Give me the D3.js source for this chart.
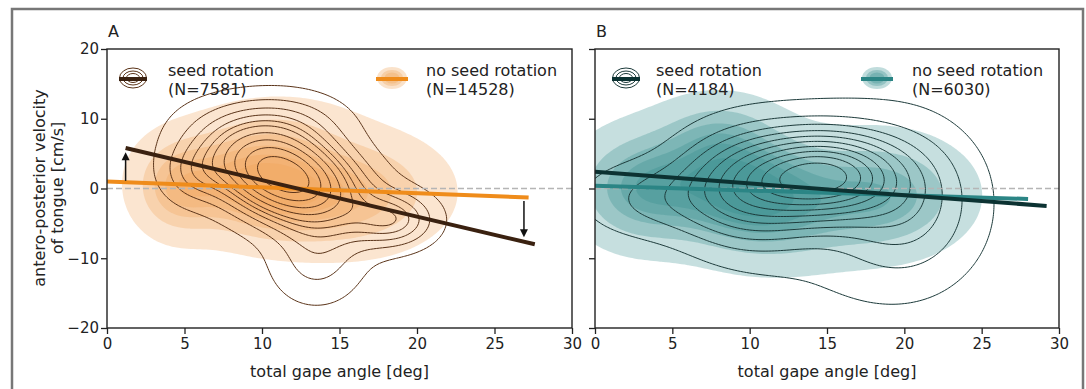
<!DOCTYPE html>
<html>
<head>
<meta charset="utf-8">
<script src="https://cdn.jsdelivr.net/npm/d3@7"></script>
<style>
  body { margin: 0; background: #fff; }
  svg text { font-family: "DejaVu Sans", sans-serif; fill: #222; }
</style>
</head>
<body>
<div id="chart"></div>
<script>
// axis ticks
var xTicks = [0, 5, 10, 15, 20, 25, 30];
var yTicks = [-20, -10, 0, 10, 20];

// density blobs: [cx, cy, sx, sy, rho, weight]
var seedBlobsA = [
  [11.4, 1.8, 3.3, 4.8, -0.38, 1.0],
  [13.5, -10.5, 2.0, 4.2, 0.0, 0.10],
  [11.5, 9.5, 2.8, 3.2, 0.0, 0.10],
  [18.5, -4.5, 1.8, 2.6, 0.0, 0.10],
  [5.5, 2.0, 1.4, 2.8, 0.0, 0.04]
];
var noSeedBlobsA = [
  [10.2, 0.5, 3.4, 4.6, -0.15, 1.0],
  [16.5, -0.5, 3.2, 4.8, 0.0, 0.45],
  [4.6, 0.0, 1.7, 4.0, 0.0, 0.22],
  [11.5, 8.5, 3.0, 3.2, 0.0, 0.10]
];
var seedBlobsB = [
  [14.8, 1.8, 3.0, 3.8, 0.0, 1.0],
  [10.0, 0.0, 2.8, 4.8, 0.0, 0.6],
  [20.0, -2.5, 2.8, 6.5, 0.0, 0.35],
  [4.0, -1.5, 3.0, 3.4, 0.0, 0.12],
  [16.5, -2.0, 5.0, 9.5, 0.0, 0.30]
];
var noSeedBlobsB = [
  [10.0, -0.8, 3.6, 5.3, -0.15, 1.0],
  [3.0, 0.0, 2.6, 4.8, 0.0, 0.40],
  [18.5, -1.0, 3.3, 5.0, 0.0, 0.50],
  [8.0, 7.5, 2.4, 3.6, 0.0, 0.15]
];

// regression lines [x, y] end points
var fitSeedA = [[1.2, 5.8], [27.6, -8.0]];
var fitNoSeedA = [[0, 1.0], [27.2, -1.3]];
var fitSeedB = [[0, 2.4], [29.2, -2.5]];
var fitNoSeedB = [[0, 0.4], [28.0, -1.5]];

// arrows in panel A: [x, yFrom, yTo]
var arrowsA = [[1.2, 1.1, 5.2], [26.9, -1.8, -7.0]];

var legendTextA = ["seed rotation", "(N=7581)", "no seed rotation", "(N=14528)"];
var legendTextB = ["seed rotation", "(N=4184)", "no seed rotation", "(N=6030)"];

var seedLevels = d3.range(11).map(i => 0.05 + i * 0.095);
var fillLevels = [0.05, 0.2, 0.36, 0.52, 0.68, 0.84];

var svgWidth = 1086, svgHeight = 389;
var svg = d3.select("#chart").append("svg")
  .attr("width", svgWidth)
  .attr("height", svgHeight);

// outer frame
svg.append("rect")
  .attr("x", 12).attr("y", 9)
  .attr("width", 1071).attr("height", 400)
  .attr("fill", "none").attr("stroke", "#777").attr("stroke-width", 2.5);

var plotTop = 49, plotBottom = 328;
var panels = [
  {left: 107, right: 572, id: "A", seed: seedBlobsA, noSeed: noSeedBlobsA,
   fitSeed: fitSeedA, fitNoSeed: fitNoSeedA, legend: legendTextA,
   fillColor: "#f0a050", lineColor: "#ef8c1b", darkColor: "#3a2110", contourColor: "#5a3318",
   icon1: 133, text1: 168, icon2: 392, text2: 426, yLabels: true},
  {left: 595, right: 1059, id: "B", seed: seedBlobsB, noSeed: noSeedBlobsB,
   fitSeed: fitSeedB, fitNoSeed: fitNoSeedB, legend: legendTextB,
   fillColor: "#2e8a8a", lineColor: "#2b8585", darkColor: "#0c3232", contourColor: "#1c3a3a",
   icon1: 626, text1: 656, icon2: 877, text2: 912, yLabels: false}
];

// density grid
var gx0 = -4, gx1 = 34, gy0 = -32, gy1 = 32, dx = 0.2, dy = 0.25;
var nx = Math.round((gx1 - gx0) / dx) + 1, ny = Math.round((gy1 - gy0) / dy) + 1;

function densityGrid(blobs) {
  var vals = new Float64Array(nx * ny);
  for (var j = 0; j < ny; j++) {
    var y = gy0 + j * dy;
    for (var i = 0; i < nx; i++) {
      var x = gx0 + i * dx, s = 0;
      blobs.forEach(function(b) {
        var u = (x - b[0]) / b[2], v = (y - b[1]) / b[3], r = b[4];
        var q = (u * u - 2 * r * u * v + v * v) / (1 - r * r);
        s += b[5] / (b[2] * b[3] * Math.sqrt(1 - r * r)) * Math.exp(-q / 2);
      });
      vals[j * nx + i] = s;
    }
  }
  return vals;
}

// iso-proportion thresholds like seaborn
function isoThresholds(vals, props) {
  var sorted = Float64Array.from(vals).sort();
  var total = d3.sum(sorted), cum = 0, k = 0, out = [];
  for (var i = 0; i < sorted.length && k < props.length; i++) {
    cum += sorted[i];
    while (k < props.length && cum / total >= props[k]) { out.push(sorted[i]); k++; }
  }
  return out;
}

panels.forEach(function(p, pi) {
  var xScale = d3.scaleLinear().domain([0, 30]).range([p.left, p.right]);
  var yScale = d3.scaleLinear().domain([-20, 20]).range([plotBottom, plotTop]);

  var g = svg.append("g");
  var clipId = "clip" + p.id;
  svg.append("clipPath").attr("id", clipId)
    .append("rect").attr("x", p.left).attr("y", plotTop)
    .attr("width", p.right - p.left).attr("height", plotBottom - plotTop);

  var plot = g.append("g").attr("clip-path", "url(#" + clipId + ")");

  var proj = d3.geoTransform({
    point: function(x, y) {
      this.stream.point(xScale(gx0 + (x - 0.5) * dx), yScale(gy0 + (y - 0.5) * dy));
    }
  });
  var path = d3.geoPath(proj);

  // filled density (no seed rotation)
  var v1 = densityGrid(p.noSeed);
  var c1 = d3.contours().size([nx, ny]).thresholds(isoThresholds(v1, fillLevels))(v1);
  plot.selectAll(".fill").data(c1).enter().append("path")
    .attr("d", path)
    .attr("fill", p.fillColor)
    .attr("fill-opacity", 0.27);

  // line contours (seed rotation)
  var v2 = densityGrid(p.seed);
  var c2 = d3.contours().size([nx, ny]).thresholds(isoThresholds(v2, seedLevels))(v2);
  plot.selectAll(".line").data(c2).enter().append("path")
    .attr("d", path)
    .attr("fill", "none")
    .attr("stroke", p.contourColor)
    .attr("stroke-width", 1);

  // zero line
  plot.append("line")
    .attr("x1", p.left).attr("x2", p.right)
    .attr("y1", yScale(0)).attr("y2", yScale(0))
    .attr("stroke", "#b5b5b5").attr("stroke-width", 1.5)
    .attr("stroke-dasharray", "6,3");

  var line = d3.line().x(d => xScale(d[0])).y(d => yScale(d[1]));
  plot.append("path").attr("d", line(p.fitNoSeed))
    .attr("stroke", p.lineColor).attr("stroke-width", 4).attr("fill", "none");
  plot.append("path").attr("d", line(p.fitSeed))
    .attr("stroke", p.darkColor).attr("stroke-width", 4).attr("fill", "none");

  if (pi === 0) {
    arrowsA.forEach(function(a) {
      var x = xScale(a[0]), y1 = yScale(a[1]), y2 = yScale(a[2]);
      var dir = y2 < y1 ? 1 : -1;
      g.append("line").attr("x1", x).attr("x2", x)
        .attr("y1", y1).attr("y2", y2 + dir * 6)
        .attr("stroke", "#111").attr("stroke-width", 1.5);
      g.append("path")
        .attr("d", `M${x},${y2} L${x - 4},${y2 + dir * 8} L${x + 4},${y2 + dir * 8} Z`)
        .attr("fill", "#111");
    });
  }

  // axes
  var bottomAxis = d3.axisBottom(xScale).tickValues(xTicks).tickSize(6).tickPadding(4)
    .tickFormat(d3.format("d"));
  var leftAxis = d3.axisLeft(yScale).tickValues(yTicks).tickSize(6).tickPadding(2)
    .tickFormat(p.yLabels ? (d => d < 0 ? "\u2212" + Math.abs(d) : d) : "");

  var xa = g.append("g").attr("transform", `translate(0,${plotBottom})`).call(bottomAxis);
  var ya = g.append("g").attr("transform", `translate(${p.left},0)`).call(leftAxis);
  [xa, ya].forEach(function(a) {
    a.select(".domain").remove();
    a.selectAll("line").attr("stroke", "#222").attr("stroke-width", 1.3);
    a.selectAll("text").style("font-size", "15px").attr("fill", "#222");
  });

  g.append("rect")
    .attr("x", p.left).attr("y", plotTop)
    .attr("width", p.right - p.left).attr("height", plotBottom - plotTop)
    .attr("fill", "none").attr("stroke", "#222").attr("stroke-width", 1.4);

  g.append("text").attr("x", (p.left + p.right) / 2).attr("y", 377)
    .attr("text-anchor", "middle").style("font-size", "16px")
    .text("total gape angle [deg]");

  g.append("text").attr("x", p.left + 1).attr("y", 37)
    .style("font-size", "16px").text(p.id);

  // legend
  var ly = 78;
  [[13.5, 10], [10, 7], [6.5, 4.5]].forEach(function(r) {
    g.append("ellipse").attr("cx", p.icon1).attr("cy", ly)
      .attr("rx", r[0]).attr("ry", r[1])
      .attr("fill", "none").attr("stroke", p.contourColor).attr("stroke-width", 1);
  });
  g.append("line").attr("x1", p.icon1 - 14).attr("x2", p.icon1 + 14)
    .attr("y1", ly + 1).attr("y2", ly + 1)
    .attr("stroke", p.darkColor).attr("stroke-width", 4);

  [[15, 11], [11, 8], [7.5, 5.5]].forEach(function(r) {
    g.append("ellipse").attr("cx", p.icon2).attr("cy", ly)
      .attr("rx", r[0]).attr("ry", r[1])
      .attr("fill", p.fillColor).attr("fill-opacity", 0.3);
  });
  g.append("line").attr("x1", p.icon2 - 16).attr("x2", p.icon2 + 16)
    .attr("y1", ly + 1).attr("y2", ly + 1)
    .attr("stroke", p.lineColor).attr("stroke-width", 4);

  [[p.text1, 0], [p.text2, 2]].forEach(function(t) {
    g.append("text").attr("x", t[0]).attr("y", 76).style("font-size", "16px").text(p.legend[t[1]]);
    g.append("text").attr("x", t[0]).attr("y", 95).style("font-size", "16px").text(p.legend[t[1] + 1]);
  });
});

// y label
var yl = svg.append("text")
  .attr("transform", "translate(45,188) rotate(-90)")
  .attr("text-anchor", "middle").style("font-size", "16px");
yl.append("tspan").attr("x", 0).attr("dy", 0).text("antero-posterior velocity");
yl.append("tspan").attr("x", 0).attr("dy", 18).text("of tongue [cm/s]");
</script>
</body>
</html>
